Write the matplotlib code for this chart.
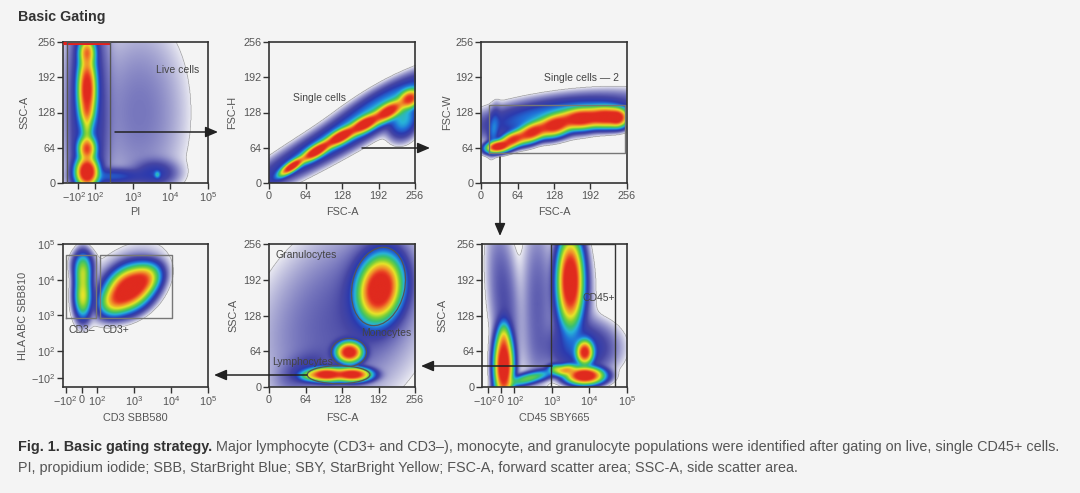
import numpy as np
import matplotlib
matplotlib.use('Agg')
import matplotlib.pyplot as plt
from matplotlib.colors import LinearSegmentedColormap, Normalize
from matplotlib.patches import Ellipse, FancyArrowPatch, Polygon
from matplotlib.ticker import FixedLocator, FixedFormatter, NullLocator

# ---------------- fonts ----------------
MAIN = 'Liberation Sans'
plt.rcParams['font.family'] = [MAIN, 'DejaVu Sans']
plt.rcParams['mathtext.fontset'] = 'custom'
plt.rcParams['mathtext.rm'] = MAIN
plt.rcParams['mathtext.it'] = MAIN
plt.rcParams['mathtext.bf'] = MAIN

# ---------------- data ----------------
lin_ticks = [0, 64, 128, 192, 256]
lin_labels = ['0', '64', '128', '192', '256']
bi_xticks = [-100, 0, 100, 1e3, 1e4, 1e5]
bi_xlabels = ['\u221210$^2$', '0', '10$^2$', '10$^3$', '10$^4$', '10$^5$']
p4_yticks = [-100, 100, 1e3, 1e4, 1e5]
p4_ylabels = ['\u221210$^2$', '10$^2$', '10$^3$', '10$^4$', '10$^5$']
p1_xticks = [-100, 100, 1e3, 1e4, 1e5]
p1_xlabels = ['\u221210$^2$', '10$^2$', '10$^3$', '10$^4$', '10$^5$']

# populations: centre x, centre y (data units), spread along / across (axes fraction), angle (deg), peak weight
# Panel 1: PI vs SSC-A
p1_x = [5, 5, 5, 5, 5, 5, 5, 1500, 4000, 4500, 300]
p1_y = [20, 62, 100, 128, 170, 238, 128, 128, 18, 15, 12]
p1_major = [0.05, 0.045, 0.06, 0.04, 0.12, 0.05, 0.5, 0.4, 0.08, 0.012, 0.12]
p1_minor = [0.036, 0.03, 0.018, 0.022, 0.03, 0.028, 0.075, 0.2, 0.05, 0.015, 0.03]
p1_angle = [90, 90, 90, 90, 90, 90, 90, 90, 0, 0, 0]
p1_w = [1.0, 0.5, 0.1, 0.12, 0.75, 0.35, 0.025, 0.005, 0.018, 0.05, 0.025]
p1_gate_x = [-196, -196, 244, 244]
p1_gate_y = [0, 256, 256, 0]
p1_sat_x = [-245, 250]
p1_sat_y = [255, 255]

# Panel 2: FSC-A vs FSC-H
p2_x = [40, 83, 125, 167, 208, 245, 150, 235, 200]
p2_y = [30, 58, 84, 107, 130, 153, 100, 115, 150]
p2_major = [0.05, 0.06, 0.06, 0.06, 0.06, 0.04, 0.42, 0.07, 0.2]
p2_minor = [0.016, 0.02, 0.022, 0.024, 0.026, 0.03, 0.055, 0.05, 0.05]
p2_angle = [36, 33, 30, 30, 32, 35, 31, 70, 31]
p2_w = [0.9, 1.0, 1.0, 0.95, 0.8, 0.6, 0.06, 0.06, 0.025]
p2_gate_x = [2, 33, 256, 256]
p2_gate_y = [32, 6, 118, 190]

# Panel 3: FSC-A vs FSC-W
p3_x = [30, 55, 90, 130, 175, 220, 240, 135, 22]
p3_y = [66, 78, 92, 105, 117, 120, 118, 122, 95]
p3_major = [0.04, 0.05, 0.06, 0.06, 0.07, 0.07, 0.03, 0.28, 0.08]
p3_minor = [0.02, 0.025, 0.03, 0.035, 0.035, 0.035, 0.03, 0.065, 0.02]
p3_angle = [10, 25, 25, 18, 5, 0, 0, 8, 85]
p3_w = [1.0, 0.7, 0.8, 0.9, 1.0, 1.0, 0.6, 0.06, 0.035]
p3_gate_x = [14, 14, 252, 252, 14]
p3_gate_y = [54, 141, 141, 54, 54]

# Panel 4: CD3 SBB580 vs HLA ABC SBB810
p4_x = [8, 8, 8, 8, 750, 1800, 330, 500]
p4_y = [15800, 3200, 7000, 28000, 5800, 10000, 2800, 8000]
p4_major = [0.06, 0.07, 0.1, 0.05, 0.08, 0.06, 0.06, 0.2]
p4_minor = [0.028, 0.028, 0.03, 0.04, 0.06, 0.045, 0.045, 0.12]
p4_angle = [90, 90, 90, 90, 40, 40, 40, 40]
p4_w = [0.13, 0.18, 0.08, 0.03, 1.0, 0.35, 0.3, 0.006]
p4_gate_neg_x = [-100, -100, 89, 89, -100]
p4_gate_pos_x = [120, 120, 10500, 10500, 120]
p4_gate_y = [860, 49000, 49000, 860, 860]

# Panel 5: FSC-A vs SSC-A
p5_x = [193, 190, 140, 100, 145, 70, 130, 60]
p5_y = [176, 175, 62, 22, 22, 20, 120, 30]
p5_major = [0.1, 0.17, 0.042, 0.06, 0.06, 0.04, 0.4, 0.1]
p5_minor = [0.065, 0.11, 0.034, 0.023, 0.023, 0.02, 0.3, 0.06]
p5_angle = [80, 80, 0, 0, 0, 0, 60, 30]
p5_w = [1.0, 0.035, 0.85, 0.85, 0.85, 0.1, 0.008, 0.01]
p5_gate_cx = [192, 140, 122]
p5_gate_cy = [180, 62, 22]
p5_gate_w = [92, 62, 110]
p5_gate_h = [142, 50, 32]
p5_gate_ang = [-12, 0, 0]

# Panel 6: CD45 SBY665 vs SSC-A
p6_x = [20, 20, 240, 20, 410, 3150, 3150, 7600, 7600, 2400, 1300, 6000]
p6_y = [38, 85, 15, 160, 150, 190, 170, 62, 20, 30, 32, 70]
p6_major = [0.11, 0.06, 0.09, 0.3, 0.35, 0.14, 0.2, 0.04, 0.06, 0.04, 0.03, 0.13]
p6_minor = [0.03, 0.02, 0.02, 0.06, 0.06, 0.04, 0.07, 0.028, 0.028, 0.02, 0.018, 0.1]
p6_angle = [90, 90, 15, 95, 90, 90, 90, 90, 0, 10, 0, 0]
p6_w = [1.0, 0.12, 0.12, 0.009, 0.007, 1.0, 0.025, 0.7, 1.0, 0.3, 0.12, 0.025]
p6_gate_x = [950, 950, 48000, 48000]
p6_gate_y = [0, 256, 256, 0]

# ---------------- style ----------------
W, H = 1080, 493
BG = '#f4f4f4'
TXT = '#555555'
SPINE = '#333333'
GATE = '#555555'
TICK_FS = 7.8
LAB_FS = 7.8

LMIN, LMAX = -3.0, -0.2
_stops = [(-3.0, '#e8e8f1'), (-2.6, '#a6a6d2'), (-2.3, '#7474bc'), (-2.0, '#4646a4'),
          (-1.7, '#2c3aae'), (-1.45, '#2070d8'), (-1.25, '#28b4d8'), (-1.05, '#38c070'),
          (-0.85, '#7cd038'), (-0.65, '#e8e428'), (-0.45, '#f0902a'), (-0.28, '#e83a22'),
          (-0.2, '#e02a1e')]
cmap = LinearSegmentedColormap.from_list(
    'flow', [((v - LMIN) / (LMAX - LMIN), c) for v, c in _stops])

fig = plt.figure(figsize=(W / 100, H / 100), dpi=100, facecolor=BG)


def px_rect(l, t, r, b):
    return [l / W, 1 - b / H, (r - l) / W, (b - t) / H]


def make_ax(rect, xscale, yscale, xlim, ylim, xt, xl, yt, yl, xlabel, ylabel, ylab_x, xlab_y):
    ax = fig.add_axes(px_rect(*rect))
    ax.set_facecolor(BG)
    if xscale[0] == 'symlog':
        ax.set_xscale('symlog', linthresh=100, linscale=xscale[1])
    if yscale[0] == 'symlog':
        ax.set_yscale('symlog', linthresh=100, linscale=yscale[1])
    ax.set_xlim(*xlim)
    ax.set_ylim(*ylim)
    ax.xaxis.set_major_locator(FixedLocator(xt))
    ax.xaxis.set_major_formatter(FixedFormatter(xl))
    ax.yaxis.set_major_locator(FixedLocator(yt))
    ax.yaxis.set_major_formatter(FixedFormatter(yl))
    ax.xaxis.set_minor_locator(NullLocator())
    ax.yaxis.set_minor_locator(NullLocator())
    ax.tick_params(length=4, width=1, color=SPINE, labelsize=TICK_FS, labelcolor=TXT, pad=1.5)
    for s in ax.spines.values():
        s.set_color(SPINE)
        s.set_linewidth(1.2)
    ax.set_xlabel(xlabel, fontsize=LAB_FS, color=TXT)
    ax.set_ylabel(ylabel, fontsize=LAB_FS, color=TXT)
    ax.yaxis.set_label_coords(ylab_x, 0.5)
    ax.xaxis.set_label_coords(0.5, xlab_y)
    ax.xaxis.label.set_va('top')
    return ax


def tick_text(ax, x, s, ha, dx_pt):
    ax.annotate(s, xy=(x, 0), xycoords=('data', 'axes fraction'), xytext=(dx_pt, -5.5),
                textcoords='offset points', ha=ha, va='top', fontsize=TICK_FS, color=TXT,
                annotation_clip=False)


def density(ax, xs, ys, majors, minors, angles, ws, n=360):
    xlim, ylim = ax.get_xlim(), ax.get_ylim()
    T = ax.transScale + ax.transLimits
    c = T.transform(np.column_stack([xs, ys]))
    g = np.linspace(0, 1, n)
    GX, GY = np.meshgrid(g, g)
    d = np.zeros_like(GX)
    for (cx, cy), a, b, ang, w in zip(c, majors, minors, angles, ws):
        th = np.deg2rad(ang)
        dx, dy = GX - cx, GY - cy
        u = dx * np.cos(th) + dy * np.sin(th)
        v = -dx * np.sin(th) + dy * np.cos(th)
        d += w * np.exp(-0.5 * ((u / a) ** 2 + (v / b) ** 2))
    L = np.log10(d / d.max() + 1e-12)
    M = np.ma.masked_less(L, LMIN)
    ax.imshow(M, extent=(0, 1, 0, 1), transform=ax.transAxes, origin='lower', cmap=cmap,
              norm=Normalize(LMIN, LMAX), interpolation='bilinear', aspect='auto', zorder=2)
    ax.set_xlim(*xlim)
    ax.set_ylim(*ylim)
    ax.set_autoscale_on(False)


# Panel 1
ax1 = make_ax((63, 42, 208, 183), ('symlog', 0.213), ('linear',), (-245, 1e5), (0, 256),
              p1_xticks, [''] + p1_xlabels[1:], lin_ticks, lin_labels, 'PI', 'SSC-A', -0.23, -0.17)
tick_text(ax1, p1_xticks[0], p1_xlabels[0], 'right', 6.5)
density(ax1, p1_x, p1_y, p1_major, p1_minor, p1_angle, p1_w)
ax1.plot(p1_sat_x, p1_sat_y, color='#e8201c', lw=2.2, zorder=3, solid_capstyle='butt')
ax1.plot(p1_gate_x, p1_gate_y, color=GATE, lw=1, zorder=4)
ax1.text(15500, 206, 'Live cells', fontsize=7.5, color='#444', ha='center', va='center', zorder=5)

# Panel 2
ax2 = make_ax((269, 42, 415, 183), ('linear',), ('linear',), (0, 256), (0, 256),
              lin_ticks, lin_labels, lin_ticks, lin_labels, 'FSC-A', 'FSC-H', -0.22, -0.17)
ax2.add_patch(Polygon(np.column_stack([p2_gate_x, p2_gate_y]), closed=True, fill=False,
                      ec='#777', lw=0.9, zorder=1.5))
density(ax2, p2_x, p2_y, p2_major, p2_minor, p2_angle, p2_w)
ax2.text(89, 154, 'Single cells', fontsize=7.5, color='#444', ha='center', va='center', zorder=5)

# Panel 3
ax3 = make_ax((481, 42, 627, 183), ('linear',), ('linear',), (0, 256), (0, 256),
              lin_ticks, lin_labels, lin_ticks, lin_labels, 'FSC-A', 'FSC-W', -0.2, -0.17)
density(ax3, p3_x, p3_y, p3_major, p3_minor, p3_angle, p3_w)
ax3.plot(p3_gate_x, p3_gate_y, color='#777', lw=1, zorder=4)
ax3.text(177, 191, 'Single cells \u2014 2', fontsize=7.5, color='#444', ha='center', va='center', zorder=5)

# Panel 4
ax4 = make_ax((63, 244, 208, 387), ('symlog', 0.387), ('symlog', 0.342), (-118, 1e5), (-175, 1e5),
              bi_xticks, bi_xlabels, p4_yticks, p4_ylabels, 'CD3 SBB580', 'HLA ABC SBB810', -0.24, -0.18)
density(ax4, p4_x, p4_y, p4_major, p4_minor, p4_angle, p4_w)
ax4.plot(p4_gate_neg_x, p4_gate_y, color='#777', lw=1, zorder=4)
ax4.plot(p4_gate_pos_x, p4_gate_y, color='#777', lw=1, zorder=4)
ax4.text(0, 400, 'CD3\u2013', fontsize=7.5, color='#444', ha='center', va='center', zorder=5)
ax4.text(325, 400, 'CD3+', fontsize=7.5, color='#444', ha='center', va='center', zorder=5)

# Panel 5
ax5 = make_ax((269, 244, 415, 387), ('linear',), ('linear',), (0, 256), (0, 256),
              lin_ticks, lin_labels, lin_ticks, lin_labels, 'FSC-A', 'SSC-A', -0.21, -0.18)
density(ax5, p5_x, p5_y, p5_major, p5_minor, p5_angle, p5_w)
for cx, cy, ew, eh, ea in zip(p5_gate_cx, p5_gate_cy, p5_gate_w, p5_gate_h, p5_gate_ang):
    ax5.add_patch(Ellipse((cx, cy), ew, eh, angle=ea, fill=False, ec=GATE, lw=0.9, zorder=4))
ax5.text(12, 236, 'Granulocytes', fontsize=7.5, color='#444', ha='left', va='center', zorder=5)
ax5.text(162, 96, 'Monocytes', fontsize=7.5, color='#444', ha='left', va='center', zorder=5)
ax5.text(6, 45, 'Lymphocytes', fontsize=7.5, color='#444', ha='left', va='center', zorder=5)

# Panel 6
ax6 = make_ax((482, 244, 627, 387), ('symlog', 0.31), ('linear',), (-145, 1e5), (0, 256),
              bi_xticks, ['', '', ''] + bi_xlabels[3:], lin_ticks, lin_labels, 'CD45 SBY665', 'SSC-A',
              -0.24, -0.18)
tick_text(ax6, bi_xticks[0], bi_xlabels[0], 'right', 6.5)
tick_text(ax6, bi_xticks[1], bi_xlabels[1], 'center', 0)
tick_text(ax6, bi_xticks[2], bi_xlabels[2], 'left', -5.8)
density(ax6, p6_x, p6_y, p6_major, p6_minor, p6_angle, p6_w)
ax6.plot(p6_gate_x, p6_gate_y, color=SPINE, lw=1, zorder=4)
ax6.text(18000, 159, 'CD45+', fontsize=7.5, color='#444', ha='center', va='center', zorder=5)


# ---------------- arrows ----------------
def arrow(x0, y0, x1, y1):
    p = FancyArrowPatch((x0 / W, 1 - y0 / H), (x1 / W, 1 - y1 / H), transform=fig.transFigure,
                        arrowstyle='-|>,head_length=0.75,head_width=0.32', mutation_scale=10,
                        color='#222222', lw=1.1, shrinkA=0, shrinkB=0, zorder=10)
    fig.patches.append(p)


arrow(115, 132, 218, 132)
arrow(362, 148, 430, 148)
arrow(500, 157, 500, 236)
arrow(552, 366, 421, 366)
arrow(307, 375, 214, 375)

# ---------------- title & caption ----------------
fig.text(18 / W, 1 - 17 / H, 'Basic Gating', fontsize=10.3, weight='bold', color='#333333',
         ha='left', va='center')
CAP_FS = 10.4
t1 = fig.text(18 / W, 1 - 454 / H, 'Fig. 1. Basic gating strategy.', fontsize=CAP_FS,
              weight='bold', color='#333333', ha='left', va='bottom')
ax6.annotate(' Major lymphocyte (CD3+ and CD3\u2013), monocyte, and granulocyte populations were '
             'identified after gating on live, single CD45+ cells.', xy=(1, 0), xycoords=t1,
             fontsize=CAP_FS, color=TXT, ha='left', va='bottom', annotation_clip=False)
fig.text(18 / W, 1 - 475 / H, 'PI, propidium iodide; SBB, StarBright Blue; SBY, StarBright Yellow; '
         'FSC-A, forward scatter area; SSC-A, side scatter area.', fontsize=CAP_FS, color=TXT,
         ha='left', va='bottom')

fig.savefig('out.png', dpi=100, facecolor=BG)
